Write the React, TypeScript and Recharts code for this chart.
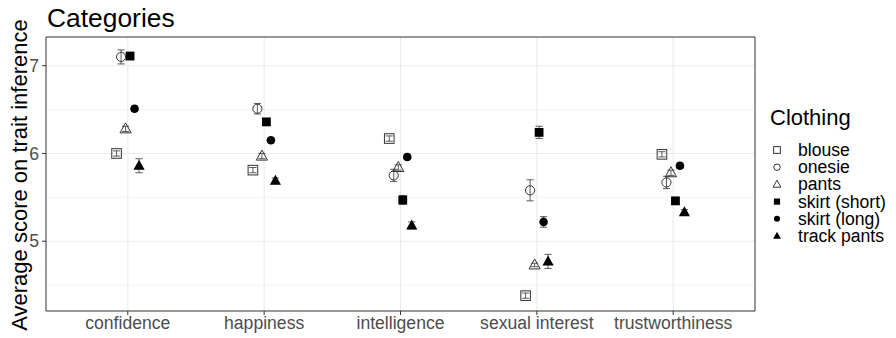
import React from 'react';
import { ComposedChart, Scatter, XAxis, YAxis, CartesianGrid, ErrorBar, ReferenceArea } from 'recharts';

const categories = ['confidence', 'happiness', 'intelligence', 'sexual interest', 'trustworthiness'];
const clothing = ['blouse', 'onesie', 'pants', 'skirt (short)', 'skirt (long)', 'track pants'];

const blouseMean = [6.0, 5.81, 6.17, 4.38, 5.99];
const blouseErr = [0.03, 0.03, 0.03, 0.03, 0.03];
const onesieMean = [7.1, 6.51, 5.75, 5.58, 5.67];
const onesieErr = [0.08, 0.06, 0.07, 0.12, 0.07];
const pantsMean = [6.28, 5.97, 5.84, 4.73, 5.78];
const pantsErr = [0.03, 0.03, 0.03, 0.02, 0.03];
const skirtShortMean = [7.11, 6.36, 5.47, 6.24, 5.46];
const skirtShortErr = [0.03, 0.02, 0.05, 0.07, 0.03];
const skirtLongMean = [6.51, 6.15, 5.96, 5.22, 5.86];
const skirtLongErr = [0.03, 0.02, 0.03, 0.06, 0.03];
const trackMean = [5.86, 5.69, 5.18, 4.77, 5.33];
const trackErr = [0.08, 0.03, 0.04, 0.08, 0.03];

const yTicks = [5, 6, 7];
const yMinor = [4.5, 5.5, 6.5];

const means = [blouseMean, onesieMean, pantsMean, skirtShortMean, skirtLongMean, trackMean];
const errs = [blouseErr, onesieErr, pantsErr, skirtShortErr, skirtLongErr, trackErr];

const Y_MIN = 4.205;
const Y_MAX = 7.327;
const DODGE = 0.033;
const FONT = '"Liberation Sans", Arial, Helvetica, sans-serif';

function Marker({ kind, cx, cy, s = 1 }: { kind: number; cx: number; cy: number; s?: number }) {
  const open = { fill: 'none', stroke: '#333', strokeWidth: 1 };
  switch (kind) {
    case 0: {
      const h = 4.8 * s;
      return <rect x={cx - h} y={cy - h} width={2 * h} height={2 * h} {...open} />;
    }
    case 1:
      return <circle cx={cx} cy={cy} r={4.6 * s} {...open} />;
    case 2: {
      const w = 5.6 * s;
      const p = `${cx},${cy - 6 * s} ${cx + w},${cy + 4 * s} ${cx - w},${cy + 4 * s}`;
      return <polygon points={p} {...open} />;
    }
    case 3: {
      const h = 4.4 * s;
      return <rect x={cx - h} y={cy - h} width={2 * h} height={2 * h} fill="#000" />;
    }
    case 4:
      return <circle cx={cx} cy={cy} r={4.3 * s} fill="#000" />;
    default: {
      const w = 5.6 * s;
      const p = `${cx},${cy - 6 * s} ${cx + w},${cy + 4 * s} ${cx - w},${cy + 4 * s}`;
      return <polygon points={p} fill="#000" />;
    }
  }
}

const seriesData = clothing.map((_, i) =>
  categories.map((_c, j) => ({
    x: j + 1 + (i - 2.5) * DODGE,
    y: means[i][j],
    err: errs[i][j],
  }))
);

export default function App() {
  return (
    <div style={{ position: 'absolute', left: 0, top: 0, width: 896, height: 338, background: '#fff', fontFamily: FONT }}>
      <ComposedChart
        width={896}
        height={338}
        margin={{ top: 37, right: 141, bottom: 0, left: 0 }}
        style={{ fontFamily: FONT }}
      >
        <CartesianGrid
          horizontalValues={yMinor}
          vertical={false}
          stroke="#ebebeb"
          strokeWidth={0.6}
        />
        <CartesianGrid
          horizontalValues={yTicks}
          verticalValues={[1, 2, 3, 4, 5]}
          stroke="#ebebeb"
          strokeWidth={1.1}
        />
        <XAxis
          type="number"
          dataKey="x"
          domain={[0.4, 5.6]}
          ticks={[1, 2, 3, 4, 5]}
          tickFormatter={(v: number) => categories[Math.round(v) - 1]}
          height={27}
          axisLine={false}
          tickLine={{ stroke: '#333' }}
          tickSize={4}
          tick={{ fill: '#4d4d4d', fontSize: 17.6, fontFamily: FONT }}
          interval={0}
          allowDataOverflow
        />
        <YAxis
          type="number"
          dataKey="y"
          domain={[Y_MIN, Y_MAX]}
          ticks={yTicks}
          width={46}
          axisLine={false}
          tickLine={{ stroke: '#333' }}
          tickSize={4}
          tickMargin={3}
          tick={{ fill: '#4d4d4d', fontSize: 17.6, fontFamily: FONT }}
          allowDataOverflow
        />
        {seriesData.map((d, i) => (
          <Scatter
            key={clothing[i]}
            name={clothing[i]}
            data={d}
            dataKey="y"
            isAnimationActive={false}
            shape={(p: any) => <Marker kind={i} cx={p.cx} cy={p.cy} />}
          >
            <ErrorBar dataKey="err" direction="y" width={3.6} stroke="#333" strokeWidth={0.8} isAnimationActive={false} />
          </Scatter>
        ))}
        <ReferenceArea x1={0.4} x2={5.6} y1={Y_MIN} y2={Y_MAX} fill="none" fillOpacity={0} stroke="#333" strokeWidth={1} ifOverflow="visible" />
      </ComposedChart>
      <svg width={896} height={338} style={{ position: 'absolute', left: 0, top: 0, pointerEvents: 'none' }}>
        <text x={47} y={27} fontSize={26.4} fill="#000" fontFamily={FONT}>Categories</text>
        <text
          x={0}
          y={0}
          transform="translate(27,175) rotate(-90)"
          textAnchor="middle"
          fontSize={22}
          fill="#000"
          fontFamily={FONT}
        >
          Average score on trait inference
        </text>
        <text x={770} y={125} fontSize={22} fill="#000" fontFamily={FONT}>Clothing</text>
        {clothing.map((c, i) => (
          <g key={c}>
            <Marker kind={i} cx={777} cy={150 + i * 17.2} s={0.7} />
            <text x={798} y={156 + i * 17.2} fontSize={17.6} fill="#000" fontFamily={FONT}>{c}</text>
          </g>
        ))}
      </svg>
    </div>
  );
}
